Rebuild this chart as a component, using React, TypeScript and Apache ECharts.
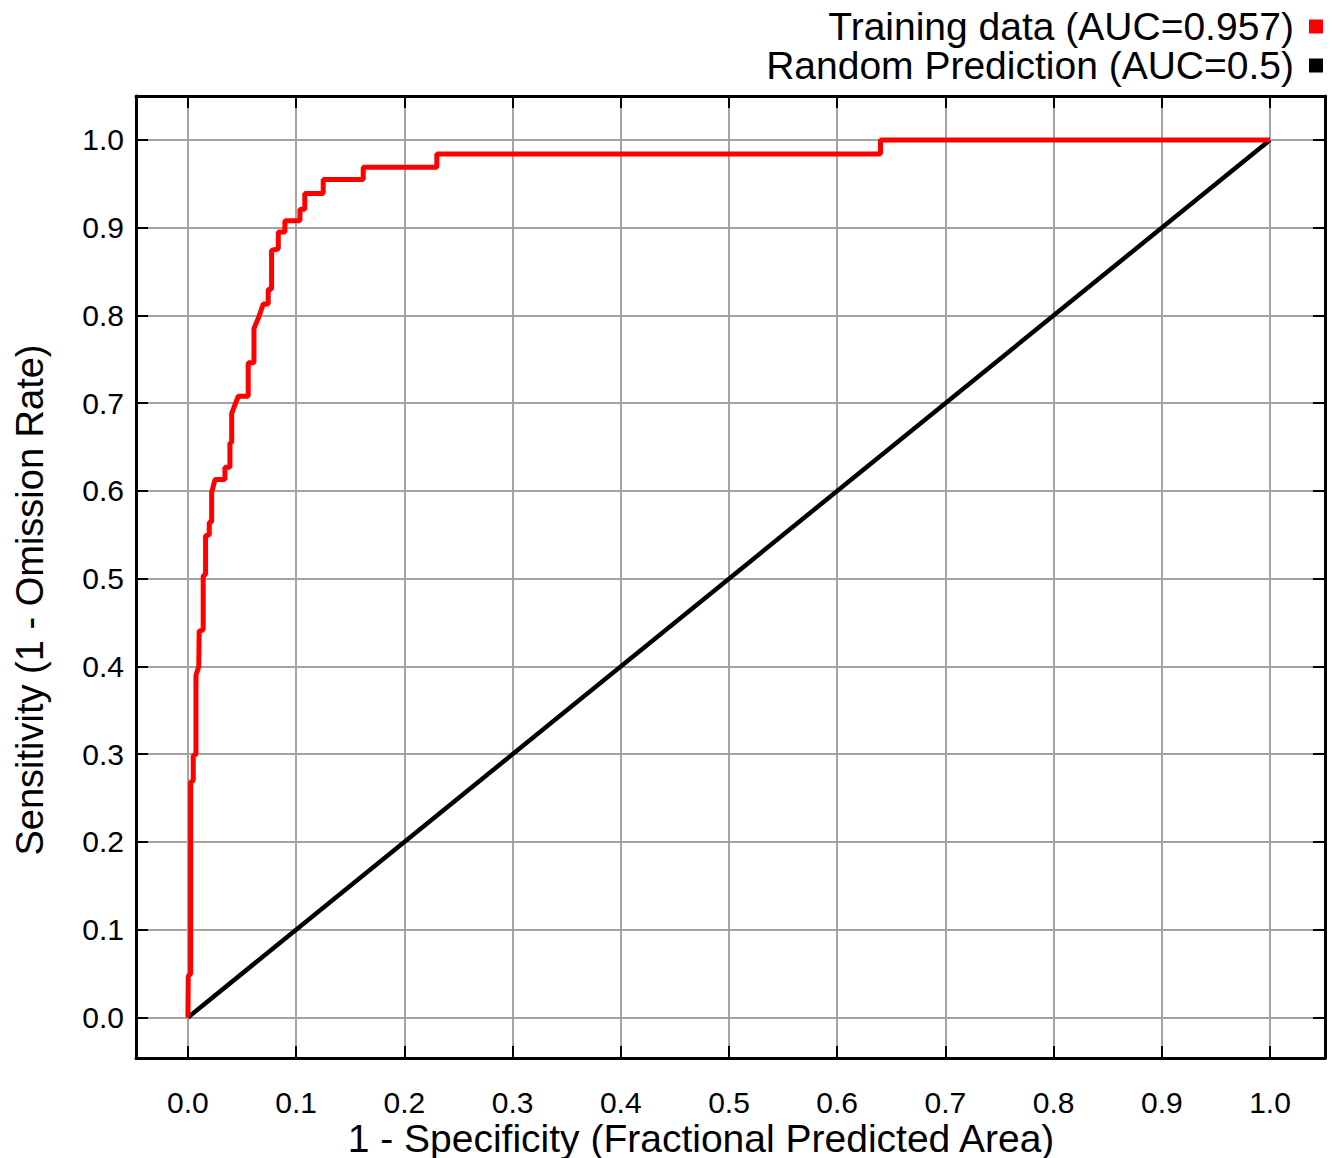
import React, { useEffect, useRef } from "react";
import * as echarts from "echarts";

const X_TICKS = [0, 0.1, 0.2, 0.3, 0.4, 0.5, 0.6, 0.7, 0.8, 0.9, 1.0];
const Y_TICKS = [0, 0.1, 0.2, 0.3, 0.4, 0.5, 0.6, 0.7, 0.8, 0.9, 1.0];

const TRAIN_NAME = "Training data (AUC=0.957)";
const RANDOM_NAME = "Random Prediction (AUC=0.5)";

// ROC curve of the training data: [1 - specificity, sensitivity]
const TRAIN_ROC: [number, number][] = [
  [0, 0], [0.0003, 0.047], [0.0025, 0.05], [0.0025, 0.268], [0.0049, 0.27],
  [0.0049, 0.298], [0.0074, 0.3], [0.0074, 0.39], [0.01, 0.4], [0.0104, 0.44],
  [0.0141, 0.442], [0.0141, 0.503], [0.0163, 0.505], [0.0163, 0.549],
  [0.0197, 0.55], [0.0197, 0.564], [0.0219, 0.565], [0.0219, 0.598],
  [0.025, 0.613], [0.0342, 0.613], [0.0342, 0.627], [0.0388, 0.627],
  [0.0388, 0.655], [0.0404, 0.655], [0.0404, 0.688], [0.0465, 0.708],
  [0.0557, 0.708], [0.0557, 0.746], [0.061, 0.746], [0.061, 0.785],
  [0.066, 0.8], [0.0696, 0.813], [0.0742, 0.813], [0.0742, 0.83],
  [0.0773, 0.83], [0.0773, 0.874], [0.0835, 0.876], [0.0835, 0.895],
  [0.0896, 0.895], [0.0896, 0.908], [0.1035, 0.908], [0.1035, 0.921],
  [0.108, 0.921], [0.108, 0.939], [0.125, 0.939], [0.125, 0.955],
  [0.162, 0.955], [0.162, 0.969], [0.23, 0.969], [0.23, 0.984],
  [0.64, 0.984], [0.64, 1.0], [1.0, 1.0],
];

const RANDOM_ROC: [number, number][] = [[0, 0], [1, 1]];

const FONT = "Liberation Sans, Arial, sans-serif";

export default function App() {
  const ref = useRef<HTMLDivElement>(null);

  useEffect(() => {
    if (!ref.current) return;
    const chart = echarts.init(ref.current, undefined, { renderer: "svg" });

    const xMin = -0.048, xMax = 1.0508;
    const yMin = -0.0462, yMax = 1.0501;

    const baseAxis = (ticks: number[]) => ({
      type: "value" as const,
      axisLine: { show: true, onZero: false, lineStyle: { color: "#000", width: 3 } },
      axisTick: { show: true, inside: true, length: 12, customValues: ticks, lineStyle: { color: "#000", width: 2 } },
    });

    const legendCommon = {
      right: 11, align: "right", icon: "rect",
      itemWidth: 14, itemHeight: 14, itemGap: 14, padding: 0,
      textStyle: { fontFamily: FONT, fontSize: 39, color: "#000", padding: [0, 10, 0, 0] },
      selectedMode: false,
    };

    chart.setOption({
      animation: false,
      backgroundColor: "#fff",
      textStyle: { fontFamily: FONT },
      grid: { left: 136, top: 96, width: 1189, height: 962, containLabel: false },
      legend: [
        { ...legendCommon, data: [TRAIN_NAME], top: 7 },
        { ...legendCommon, data: [RANDOM_NAME], top: 46 },
      ],
      xAxis: [
        {
          ...baseAxis(X_TICKS), position: "bottom", min: xMin, max: xMax,
          axisLabel: {
            show: true, customValues: X_TICKS, margin: 29, fontSize: 30, color: "#000", fontFamily: FONT,
            formatter: (v: number) => v.toFixed(1),
          },
          splitLine: { show: true, lineStyle: { color: "#a3a3a3", width: 2 } },
        },
        {
          ...baseAxis(X_TICKS), position: "top", min: xMin, max: xMax,
          axisLabel: { show: false }, splitLine: { show: false },
        },
      ],
      yAxis: [
        {
          ...baseAxis(Y_TICKS), position: "left", min: yMin, max: yMax,
          axisLabel: {
            show: true, customValues: Y_TICKS, margin: 12, fontSize: 30, color: "#000", fontFamily: FONT,
            formatter: (v: number) => v.toFixed(1),
          },
          splitLine: { show: true, lineStyle: { color: "#a3a3a3", width: 2 } },
        },
        {
          ...baseAxis(Y_TICKS), position: "right", min: yMin, max: yMax,
          axisLabel: { show: false }, splitLine: { show: false },
        },
      ],
      graphic: [
        {
          type: "text", x: 701, y: 1138,
          style: {
            text: "1 - Specificity (Fractional Predicted Area)", fontSize: 39, fontFamily: FONT,
            fill: "#000", textAlign: "center", textVerticalAlign: "middle",
          },
        },
        {
          type: "text", x: 30, y: 600, rotation: Math.PI / 2,
          style: {
            text: "Sensitivity (1 - Omission Rate)", fontSize: 38, fontFamily: FONT,
            fill: "#000", textAlign: "center", textVerticalAlign: "middle",
          },
        },
      ],
      series: [
        {
          name: RANDOM_NAME, type: "line", data: RANDOM_ROC, showSymbol: false,
          itemStyle: { color: "#000" }, lineStyle: { color: "#000", width: 4.5 },
          xAxisIndex: 0, yAxisIndex: 0,
        },
        {
          name: TRAIN_NAME, type: "line", data: TRAIN_ROC, showSymbol: false,
          itemStyle: { color: "#ff0000" }, lineStyle: { color: "#ff0000", width: 5 },
          xAxisIndex: 0, yAxisIndex: 0,
        },
      ],
    });

    return () => chart.dispose();
  }, []);

  return (
    <div
      ref={ref}
      style={{ position: "absolute", left: 0, top: 0, width: 1334, height: 1158, background: "#fff" }}
    />
  );
}
